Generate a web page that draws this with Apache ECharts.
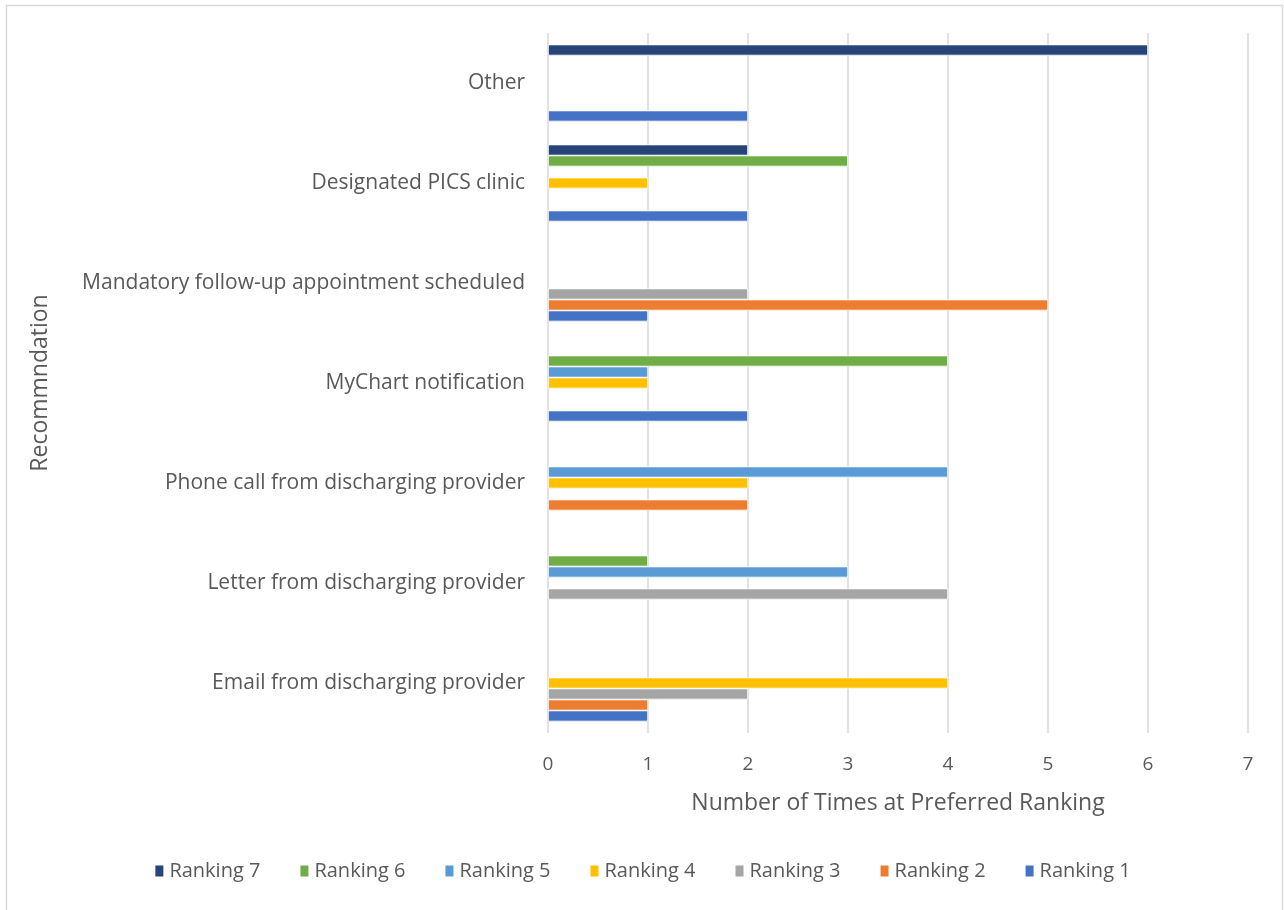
<!DOCTYPE html>
<html>
<head>
<meta charset="utf-8">
<script src="https://cdn.jsdelivr.net/npm/echarts@6/dist/echarts.min.js"></script>
<style>
html,body{margin:0;padding:0;background:#fff;}
#chart{width:1284px;height:910px;}
</style>
</head>
<body>
<div id="chart"></div>
<script>
const categories = ['Email from discharging provider', 'Letter from discharging provider', 'Phone call from discharging provider', 'MyChart notification', 'Mandatory follow-up appointment scheduled', 'Designated PICS clinic', 'Other'];
const ranking1 = [1, 0, 0, 2, 1, 2, 2];
const ranking2 = [1, 0, 2, 0, 5, 0, 0];
const ranking3 = [2, 4, 0, 0, 2, 0, 0];
const ranking4 = [4, 0, 2, 1, 0, 1, 0];
const ranking5 = [0, 3, 4, 1, 0, 0, 0];
const ranking6 = [0, 1, 0, 4, 0, 3, 0];
const ranking7 = [0, 0, 0, 0, 0, 2, 6];
const seriesNames = ['Ranking 7', 'Ranking 6', 'Ranking 5', 'Ranking 4', 'Ranking 3', 'Ranking 2', 'Ranking 1'];
const seriesData = [ranking7, ranking6, ranking5, ranking4, ranking3, ranking2, ranking1];
const seriesColors = ['#264478', '#70AD47', '#5B9BD5', '#FFC000', '#A5A5A5', '#ED7D31', '#4472C4'];
const xTicks = [0, 1, 2, 3, 4, 5, 6, 7];

const FONT = 'Open Sans';
const TXT = '#595959';
const chart = echarts.init(document.getElementById('chart'), null, {renderer: 'canvas'});
chart.setOption({
  animation: false,
  textStyle: {fontFamily: FONT},
  graphic: [{
    type: 'rect', silent: true,
    shape: {x: 6.5, y: 5.5, width: 1276, height: 920},
    style: {fill: 'none', stroke: '#d9d9d9', lineWidth: 1.5}
  }],
  grid: {left: 548, right: 36, top: 33, bottom: 177, containLabel: false},
  legend: {
    data: seriesNames,
    bottom: 24, left: 'center',
    itemWidth: 10, itemHeight: 13, itemGap: 38,
    icon: 'rect',
    textStyle: {color: TXT, fontSize: 20, fontFamily: FONT}
  },
  xAxis: {
    type: 'value', min: xTicks[0], max: xTicks[xTicks.length - 1], interval: 1,
    name: 'Number of Times at Preferred Ranking',
    nameLocation: 'middle', nameGap: 59,
    nameTextStyle: {color: TXT, fontSize: 23, fontFamily: FONT},
    axisLine: {show: false}, axisTick: {show: false},
    axisLabel: {color: TXT, fontSize: 19, margin: 22, fontFamily: FONT},
    splitLine: {show: true, lineStyle: {color: '#d9d9d9', width: 1.5}}
  },
  yAxis: {
    type: 'category', data: categories,
    name: 'Recommndation', nameLocation: 'middle', nameGap: 496, nameRotate: 90,
    nameTextStyle: {color: TXT, fontSize: 23, fontFamily: FONT},
    axisLine: {show: false}, axisTick: {show: false},
    axisLabel: {color: TXT, fontSize: 21, margin: 23, fontFamily: FONT},
    splitLine: {show: false}
  },
  series: seriesNames.map((n, i) => ({
    name: n, type: 'bar',
    data: seriesData[i].map(v => (v === 0 ? '-' : v)),
    barGap: '0%', barCategoryGap: '23%',
    itemStyle: {color: seriesColors[i], borderColor: '#ffffff', borderWidth: 0.75}
  }))
});
</script>
</body>
</html>
